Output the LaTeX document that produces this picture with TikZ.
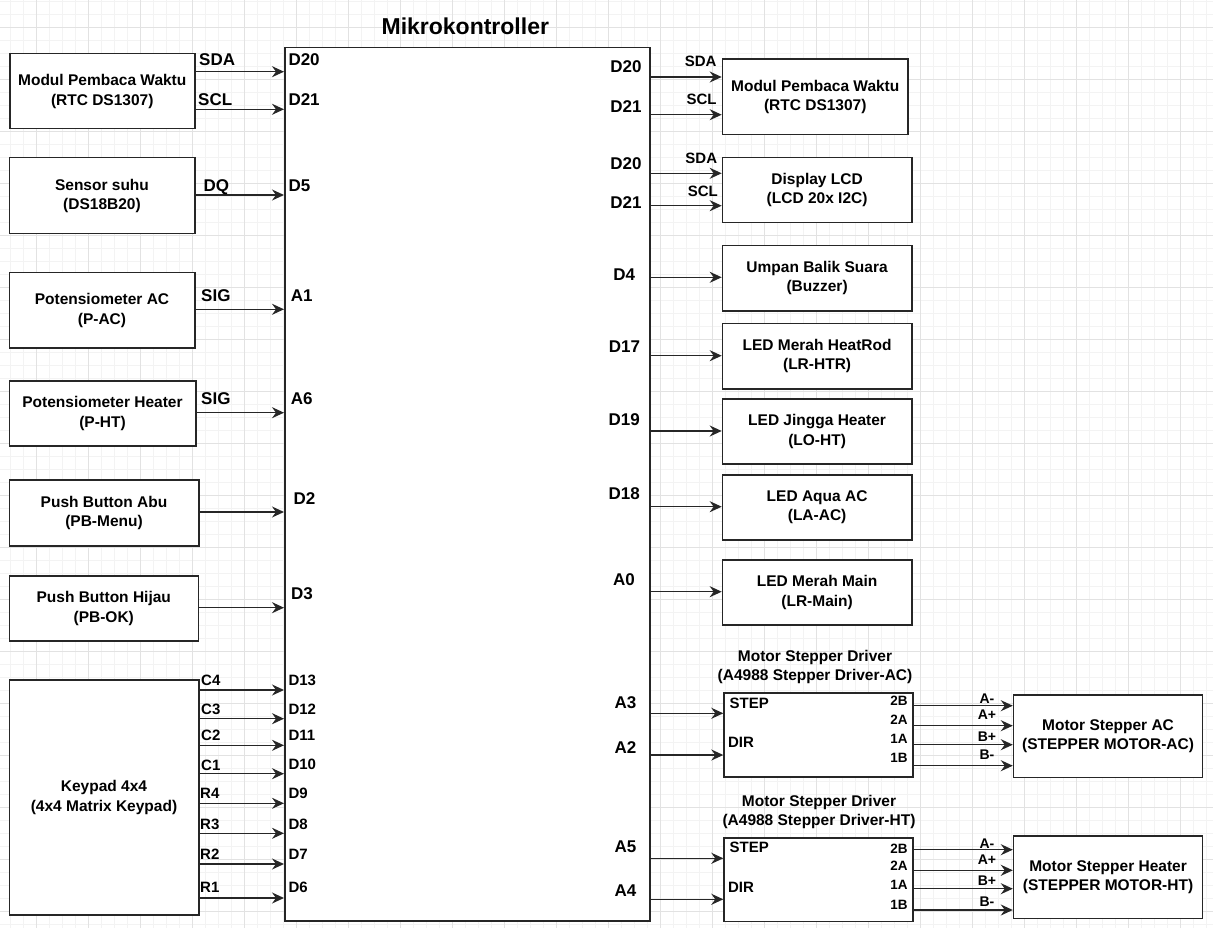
\documentclass[tikz,border=0pt]{standalone}
\usepackage{fontspec}
\setmainfont{Liberation Sans}
\usetikzlibrary{arrows.meta}
\definecolor{gridminor}{HTML}{F3F3F3}
\definecolor{gridmajor}{HTML}{E2E2E2}
\definecolor{ink}{HTML}{262626}
\begin{document}
\begin{tikzpicture}[x=1pt,y=-1pt,
  box/.style={draw=ink, line width=1.5pt, fill=white, inner sep=0pt, anchor=north west, align=center, font=\fontsize{15.5}{19.5}\selectfont\bfseries},
  arr/.style={draw=ink, line width=1.4pt, -{Stealth[length=12pt,width=11pt,inset=4pt]}},
  pinL/.style={inner sep=0pt, font=\fontsize{17}{20}\selectfont\bfseries, text height=12.2pt, text depth=0pt},
  pinS/.style={inner sep=0pt, font=\fontsize{15}{18}\selectfont\bfseries, text height=10.7pt, text depth=0pt},
  pinW/.style={inner sep=0pt, font=\fontsize{14}{17}\selectfont\bfseries, text height=10pt, text depth=0pt},
  pinT/.style={inner sep=0pt, font=\fontsize{13.5}{16}\selectfont\bfseries, text height=9.7pt, text depth=0pt},
  ttl/.style={inner sep=0pt, align=center, font=\fontsize{15.5}{18.6}\selectfont\bfseries}
]
% background and grid
\fill[white] (0,0) rectangle (1213,928);
\useasboundingbox (0,0) rectangle (1213,928);
\foreach \i in {0,...,93} \draw[gridminor, line width=0.8pt] ({10.7+13*\i},0) -- ({10.7+13*\i},928);
\foreach \i in {0,...,71} \draw[gridminor, line width=0.8pt] (0,{1.3+13*\i}) -- (1213,{1.3+13*\i});
\foreach \i in {0,...,23} \draw[gridmajor, line width=0.8pt] ({36.7+52*\i},0) -- ({36.7+52*\i},928);
\foreach \i in {0,...,17} \draw[gridmajor, line width=0.8pt] (0,{27.3+52*\i}) -- (1213,{27.3+52*\i});

% title
\node[inner sep=0pt, font=\fontsize{23}{27}\selectfont\bfseries, text height=16.5pt, text depth=0pt] (title) at (465.3,26) {Mikrokontroller};

% microcontroller
\node[box, minimum width=365, minimum height=873] (mcu) at (284,47) {};

% left boxes
\node[box, minimum width=185, minimum height=75] (rtcL) at (9,53) {Modul Pembaca Waktu\\(RTC DS1307)};
\node[box, minimum width=185.5, minimum height=76] (suhu) at (8.5,157) {Sensor suhu\\(DS18B20)};
\node[box, minimum width=185.5, minimum height=75.6] (pac) at (8.5,271.7) {Potensiometer AC\\(P-AC)};
\node[box, minimum width=186.5, minimum height=65] (pht) at (8.5,380) {Potensiometer Heater\\(P-HT)};
\node[box, minimum width=189.5, minimum height=65.7] (pbm) at (8.5,479.3) {Push Button Abu\\(PB-Menu)};
\node[box, minimum width=189, minimum height=65] (pbo) at (8.5,575) {Push Button Hijau\\(PB-OK)};
\node[box, minimum width=189.5, minimum height=235] (kpd) at (8.5,679.3) {Keypad 4x4\\(4x4 Matrix Keypad)};

% right boxes
\node[box, minimum width=185.6, minimum height=75.4] (rtcR) at (721.7,58.3) {Modul Pembaca Waktu\\(RTC DS1307)};
\node[box, minimum width=189.3, minimum height=65] (lcd) at (721.7,156.7) {Display LCD\\(LCD 20x I2C)};
\node[box, minimum width=189.3, minimum height=65.3] (buz) at (721.7,244.7) {Umpan Balik Suara\\(Buzzer)};
\node[box, minimum width=189.3, minimum height=65.3] (lhtr) at (721.7,322.7) {LED Merah HeatRod\\(LR-HTR)};
\node[box, minimum width=189.3, minimum height=65] (lht) at (721.7,398.3) {LED Jingga Heater\\(LO-HT)};
\node[box, minimum width=189.3, minimum height=65.3] (lac) at (721.7,474) {LED Aqua AC\\(LA-AC)};
\node[box, minimum width=189.3, minimum height=65] (lmain) at (721.7,559) {LED Merah Main\\(LR-Main)};
\node[box, minimum width=189, minimum height=83.7] (drvA) at (723.3,692.3) {};
\node[box, minimum width=189, minimum height=82.7] (motA) at (1012.8,694) {Motor Stepper AC\\(STEPPER MOTOR-AC)};
\node[box, minimum width=189, minimum height=83.4] (drvH) at (723.3,837.3) {};
\node[box, minimum width=189, minimum height=82.7] (motH) at (1012.8,835) {Motor Stepper Heater\\(STEPPER MOTOR-HT)};

% driver titles
\node[ttl] (tA) at (815,666.7) {Motor Stepper Driver\\(A4988 Stepper Driver-AC)};
\node[ttl] (tH) at (819,812) {Motor Stepper Driver\\(A4988 Stepper Driver-HT)};

% left connectors
\draw[arr] (rtcL.east |- 0,71.7) -- (mcu.west |- 0,71.7);
\draw[arr] (rtcL.east |- 0,109.3) -- (mcu.west |- 0,109.3);
\draw[arr] (suhu.east |- 0,195) -- (mcu.west |- 0,195);
\draw[arr] (pac.east |- 0,309.3) -- (mcu.west |- 0,309.3);
\draw[arr] (pht.east |- 0,412.7) -- (mcu.west |- 0,412.7);
\draw[arr] (pbm.east |- 0,512) -- (mcu.west |- 0,512);
\draw[arr] (pbo.east |- 0,607.7) -- (mcu.west |- 0,607.7);
\foreach \yy in {690,718.7,745.3,773.7,803.3,833.3,864,898}
  \draw[arr] (kpd.east |- 0,\yy) -- (mcu.west |- 0,\yy);

% right connectors
\draw[arr] (mcu.east |- 0,77) -- (rtcR.west |- 0,77);
\draw[arr] (mcu.east |- 0,114.7) -- (rtcR.west |- 0,114.7);
\draw[arr] (mcu.east |- 0,173.3) -- (lcd.west |- 0,173.3);
\draw[arr] (mcu.east |- 0,205.7) -- (lcd.west |- 0,205.7);
\draw[arr] (mcu.east |- 0,277.3) -- (buz.west |- 0,277.3);
\draw[arr] (mcu.east |- 0,355.7) -- (lhtr.west |- 0,355.7);
\draw[arr] (mcu.east |- 0,431) -- (lht.west |- 0,431);
\draw[arr] (mcu.east |- 0,506.7) -- (lac.west |- 0,506.7);
\draw[arr] (mcu.east |- 0,591.7) -- (lmain.west |- 0,591.7);
\draw[arr] (mcu.east |- 0,713.3) -- (drvA.west |- 0,713.3);
\draw[arr] (mcu.east |- 0,755) -- (drvA.west |- 0,755);
\draw[arr] (mcu.east |- 0,858.3) -- (drvH.west |- 0,858.3);
\draw[arr] (mcu.east |- 0,899.3) -- (drvH.west |- 0,899.3);
\foreach \yy in {705.7,725.7,744.7,765.7}
  \draw[arr] (drvA.east |- 0,\yy) -- (motA.west |- 0,\yy);
\foreach \yy in {849.7,870.3,888.7,910}
  \draw[arr] (drvH.east |- 0,\yy) -- (motH.west |- 0,\yy);

% left wire labels
\node[pinL, anchor=west] (w1) at (199,59.3) {SDA};
\node[pinL, anchor=west] (w2) at (198,99) {SCL};
\node[pinL, anchor=west] (w3) at (203.3,185.7) {DQ};
\node[pinL, anchor=west] (w4) at (201,295.7) {SIG};
\node[pinL, anchor=west] (w5) at (201,398.3) {SIG};

% mcu left pins
\node[pinL, anchor=west] (p1) at (288.3,59.3) {D20};
\node[pinL, anchor=west] (p2) at (288.3,99) {D21};
\node[pinL, anchor=west] (p3) at (288.3,185.7) {D5};
\node[pinL, anchor=west] (p4) at (290.7,295.7) {A1};
\node[pinL, anchor=west] (p5) at (290.7,398.3) {A6};
\node[pinL, anchor=west] (p6) at (293.3,498.3) {D2};
\node[pinL, anchor=west] (p7) at (291,593.3) {D3};

% keypad labels
\node[pinS, anchor=west] (k1) at (201,680) {C4};
\node[pinS, anchor=west] (k2) at (201,709) {C3};
\node[pinS, anchor=west] (k3) at (201,735.3) {C2};
\node[pinS, anchor=west] (k4) at (201,765) {C1};
\node[pinS, anchor=west] (k5) at (200,793.3) {R4};
\node[pinS, anchor=west] (k6) at (200,824) {R3};
\node[pinS, anchor=west] (k7) at (200,854) {R2};
\node[pinS, anchor=west] (k8) at (200,886.7) {R1};
\node[pinS, anchor=west] (q1) at (288.3,680) {D13};
\node[pinS, anchor=west] (q2) at (288.3,709) {D12};
\node[pinS, anchor=west] (q3) at (288.3,735.3) {D11};
\node[pinS, anchor=west] (q4) at (288.3,764) {D10};
\node[pinS, anchor=west] (q5) at (288.3,792.7) {D9};
\node[pinS, anchor=west] (q6) at (288.3,824) {D8};
\node[pinS, anchor=west] (q7) at (288.3,854) {D7};
\node[pinS, anchor=west] (q8) at (288.3,886.7) {D6};

% mcu right pins
\node[pinL, anchor=east] (r1) at (641.7,66.7) {D20};
\node[pinL, anchor=east] (r2) at (641.7,106) {D21};
\node[pinL, anchor=east] (r3) at (641.7,163.3) {D20};
\node[pinL, anchor=east] (r4) at (641.7,202.3) {D21};
\node[pinL, anchor=east] (r5) at (635.3,274.3) {D4};
\node[pinL, anchor=east] (r6) at (640.3,346.7) {D17};
\node[pinL, anchor=east] (r7) at (640,419.3) {D19};
\node[pinL, anchor=east] (r8) at (640,493.3) {D18};
\node[pinL, anchor=east] (r9) at (635,579) {A0};
\node[pinL, anchor=east] (r10) at (636.5,702.7) {A3};
\node[pinL, anchor=east] (r11) at (636.5,747.3) {A2};
\node[pinL, anchor=east] (r12) at (636.5,846.7) {A5};
\node[pinL, anchor=east] (r13) at (636.5,890) {A4};

% right wire labels
\node[pinS, anchor=east] (s1) at (716.7,61) {SDA};
\node[pinS, anchor=east] (s2) at (716.7,99) {SCL};
\node[pinS, anchor=east] (s3) at (717.3,158.3) {SDA};
\node[pinS, anchor=east] (s4) at (718,190.7) {SCL};

% driver pins
\node[pinS, anchor=west] (da1) at (729.4,703.3) {STEP};
\node[pinS, anchor=west] (da2) at (727.8,742.3) {DIR};
\node[pinS, anchor=west] (dh1) at (729.4,847.3) {STEP};
\node[pinS, anchor=west] (dh2) at (727.8,886.7) {DIR};
\node[pinT, anchor=east] (oa1) at (907.8,701) {2B};
\node[pinT, anchor=east] (oa2) at (907.8,719.3) {2A};
\node[pinT, anchor=east] (oa3) at (907.8,738.7) {1A};
\node[pinT, anchor=east] (oa4) at (907.8,758) {1B};
\node[pinT, anchor=east] (oh1) at (907.8,848.3) {2B};
\node[pinT, anchor=east] (oh2) at (907.8,866) {2A};
\node[pinT, anchor=east] (oh3) at (907.8,885) {1A};
\node[pinT, anchor=east] (oh4) at (907.8,904.3) {1B};

% motor wire labels
\node[pinW] (ma1) at (987,698.3) {A-};
\node[pinW] (ma2) at (987,714) {A+};
\node[pinW] (ma3) at (987,736) {B+};
\node[pinW] (ma4) at (987,754.3) {B-};
\node[pinW] (mh1) at (987,843.3) {A-};
\node[pinW] (mh2) at (987,859) {A+};
\node[pinW] (mh3) at (987,880) {B+};
\node[pinW] (mh4) at (987,901.7) {B-};
\end{tikzpicture}
\end{document}
